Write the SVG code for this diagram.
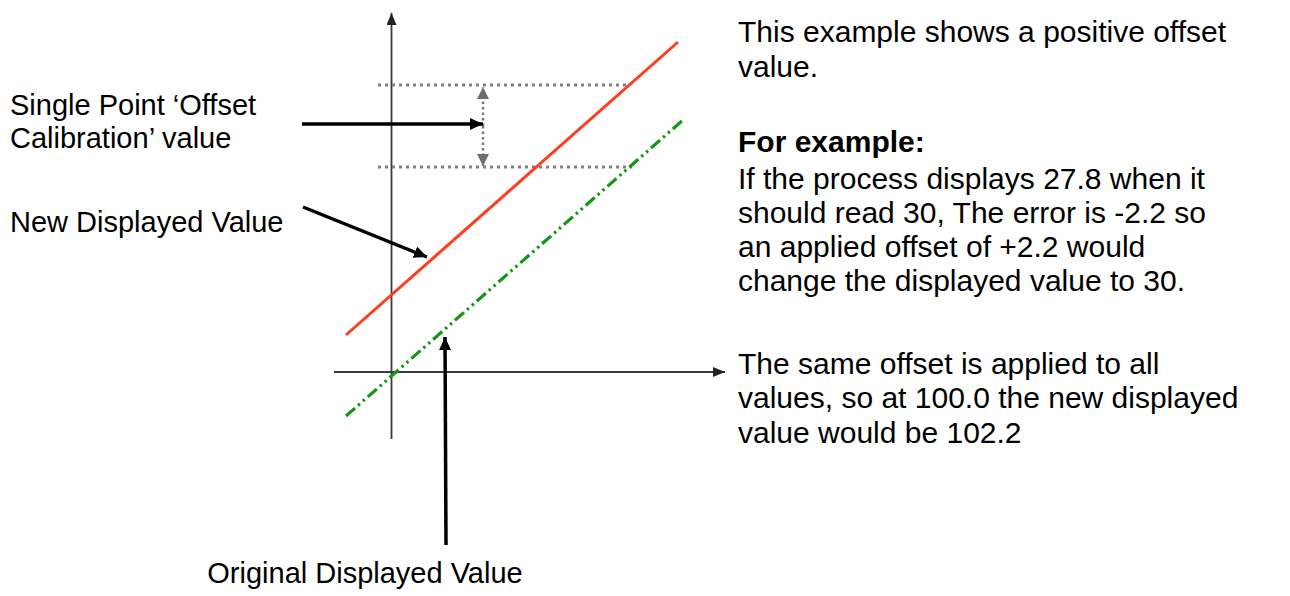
<svg xmlns="http://www.w3.org/2000/svg" width="1290" height="596" viewBox="0 0 1290 596">
<style>
text{font-family:"Liberation Sans",Arial,sans-serif;fill:#000}
.l{font-size:29px}
.r{font-size:30px}
.b{font-weight:bold}
.axis{stroke:#3a3a3a;stroke-width:1.8;fill:none}
.guide{stroke:#808080;stroke-width:3;stroke-dasharray:3 4;fill:none}
.ptr{stroke:#000;stroke-width:3.5;fill:none}
</style>
<defs>
<marker id="ax" markerUnits="userSpaceOnUse" markerWidth="14" markerHeight="12" refX="12" refY="5" orient="auto">
<path d="M0,0 L12,5 L0,10 Z" fill="#222"/>
</marker>
<marker id="bk" markerUnits="userSpaceOnUse" markerWidth="16" markerHeight="14" refX="13" refY="6" orient="auto">
<path d="M0,0 L13,6 L0,12 Z" fill="#000"/>
</marker>
<marker id="gy" markerUnits="userSpaceOnUse" markerWidth="16" markerHeight="14" refX="12" refY="6" orient="auto">
<path d="M0,0 L12,6 L0,12 Z" fill="#6e6e6e"/>
</marker>
</defs>
<g id="axes">
<line class="axis" x1="391.5" y1="439" x2="391.5" y2="13" marker-end="url(#ax)"/>
<line class="axis" x1="334" y1="372" x2="725" y2="372" marker-end="url(#ax)"/>
</g>
<g id="guides">
<line class="guide" x1="378" y1="85" x2="628" y2="85"/>
<line class="guide" x1="378" y1="167" x2="632" y2="167"/>
</g>
<g id="series">
<line id="new-line" x1="346" y1="335" x2="678" y2="42" stroke="#ff3c1e" stroke-width="3"/>
<line id="orig-line" x1="346" y1="416" x2="683" y2="120" stroke="#149614" stroke-width="3.2" stroke-dasharray="12 4 2.5 4 2.5 4"/>
</g>
<g id="connectors">
<line x1="483" y1="126" x2="483" y2="87" stroke="#7a7a7a" stroke-width="2.5" stroke-dasharray="2.5 3" marker-end="url(#gy)"/>
<line x1="483" y1="126" x2="483" y2="166" stroke="#7a7a7a" stroke-width="2.5" stroke-dasharray="2.5 3" marker-end="url(#gy)"/>
<line class="ptr" x1="302" y1="124" x2="483" y2="124" marker-end="url(#bk)"/>
<line class="ptr" x1="303" y1="207" x2="427" y2="257" marker-end="url(#bk)"/>
<line class="ptr" x1="446" y1="545" x2="445" y2="337" marker-end="url(#bk)"/>
</g>
<g id="label-offset">
<text class="l" x="10" y="115">Single Point ‘Offset</text>
<text class="l" x="10" y="148">Calibration’ value</text>
</g>
<g id="label-new">
<text class="l" x="10" y="232">New Displayed Value</text>
</g>
<g id="label-original">
<text class="l" x="365" y="583" text-anchor="middle">Original Displayed Value</text>
</g>
<g id="description">
<text class="r" x="738" y="42">This example shows a positive offset</text>
<text class="r" x="738" y="77">value.</text>
<text class="r b" x="738" y="152">For example:</text>
<text class="r" x="738" y="189">If the process displays 27.8 when it</text>
<text class="r" x="738" y="223">should read 30, The error is -2.2 so</text>
<text class="r" x="738" y="257">an applied offset of +2.2 would</text>
<text class="r" x="738" y="291">change the displayed value to 30.</text>
<text class="r" x="738" y="374">The same offset is applied to all</text>
<text class="r" x="738" y="408">values, so at 100.0 the new displayed</text>
<text class="r" x="738" y="443">value would be 102.2</text>
</g>
</svg>
